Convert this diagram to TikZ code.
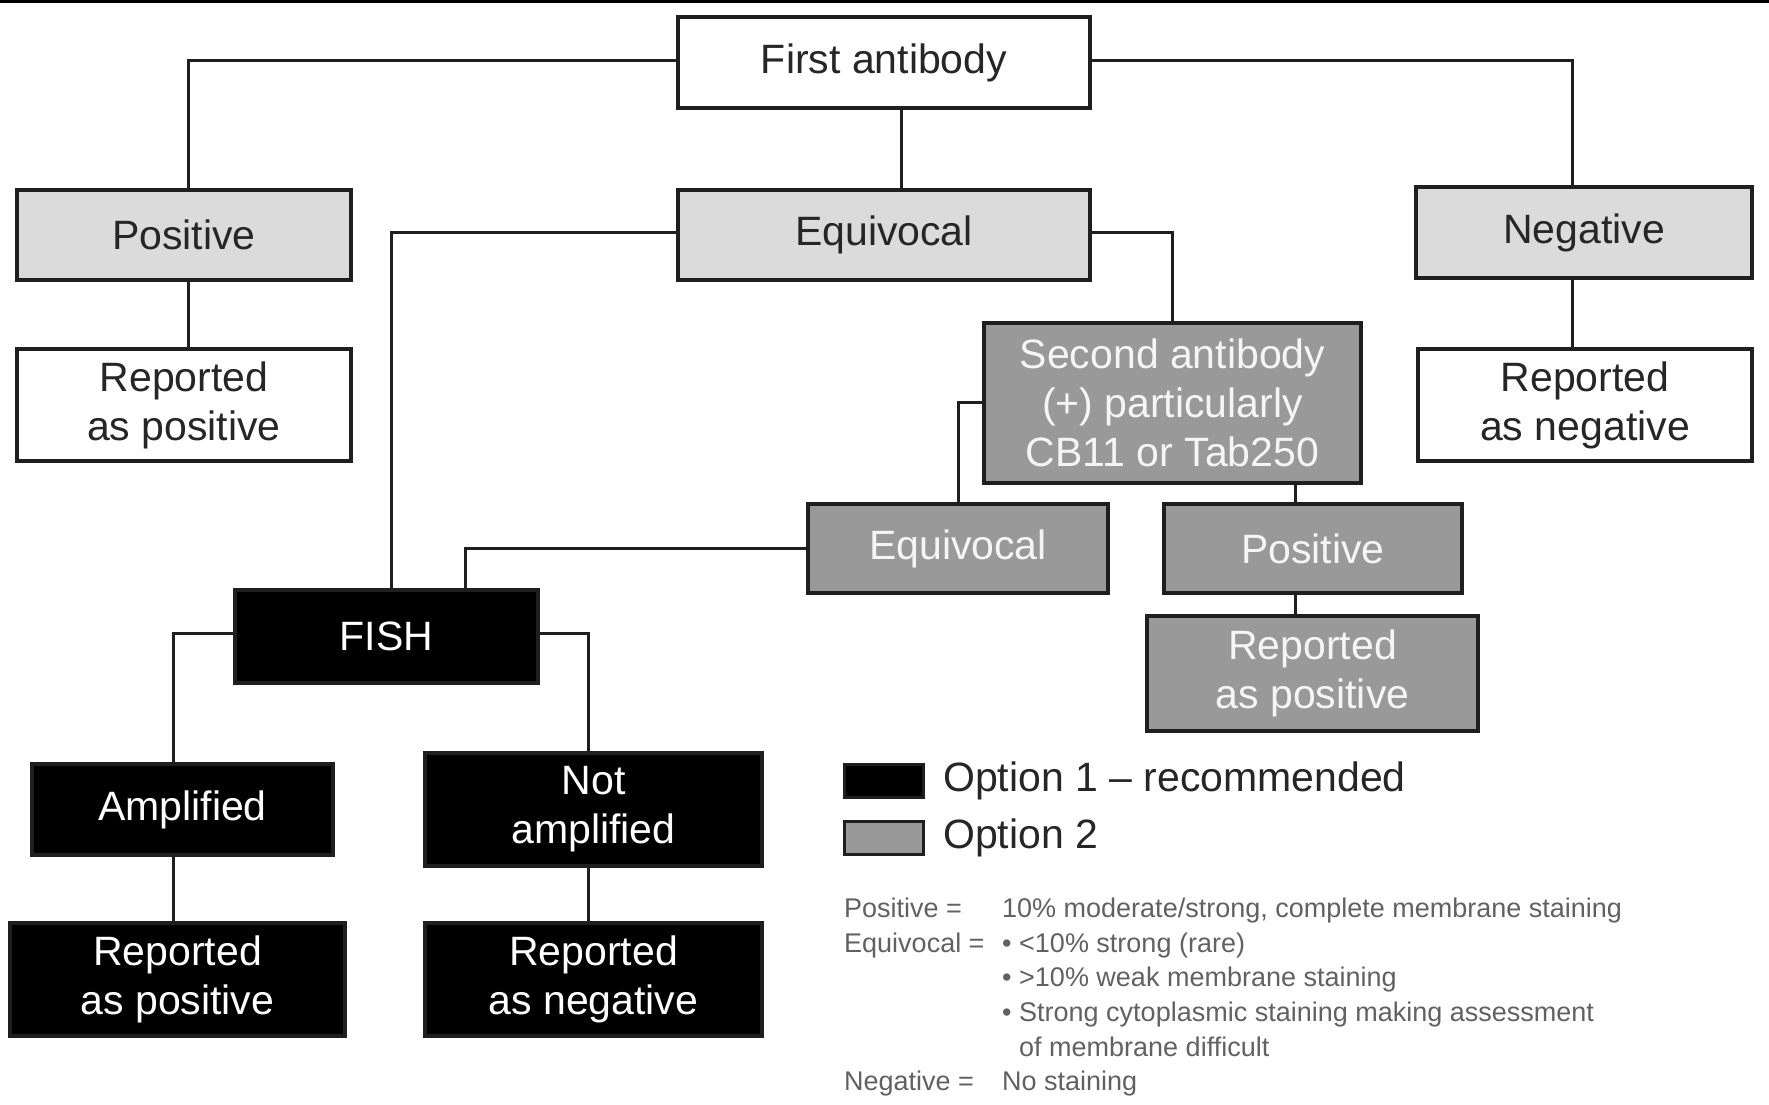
\documentclass[tikz,border=0pt]{standalone}
\usepackage{fontspec}
\setmainfont{Liberation Sans}
\begin{document}
\begin{tikzpicture}[x=1pt,y=-1pt,
  base/.style={draw=black!88, line width=3.5pt, align=center, inner sep=0pt,
    font=\fontsize{41}{49}\selectfont},
  whitebox/.style={base, fill=white, text=black!85},
  lightbox/.style={base, fill=black!14, text=black!85},
  midbox/.style={base, fill=black!40, text=black!4},
  darkbox/.style={base, fill=black, text=white},
  conn/.style={draw=black!88, line width=3pt},
  legtext/.style={anchor=west, inner sep=0pt, text=black!85, font=\fontsize{41}{49}\selectfont},
  small/.style={anchor=base west, inner sep=0pt, text=black!62, font=\fontsize{27}{31}\selectfont}
]
\useasboundingbox (0,0) rectangle (1769,1104);
\draw[line width=3pt] (0,1) -- (1769,1);

% boxes
\node[whitebox, minimum width=412pt, minimum height=91pt] (fa) at (884,62.5) {First antibody};
\node[lightbox, minimum width=334pt, minimum height=90pt] (pos) at (184,235) {Positive};
\node[lightbox, minimum width=412pt, minimum height=90pt] (equ) at (884,235) {Equivocal};
\node[lightbox, minimum width=336pt, minimum height=91pt] (neg) at (1584,232.5) {Negative};
\node[whitebox, minimum width=334pt, minimum height=112pt] (rpos) at (184,405) {Reported\\as positive};
\node[whitebox, minimum width=334pt, minimum height=112pt] (rneg) at (1585,405) {Reported\\as negative};
\node[midbox, minimum width=377pt, minimum height=160pt] (sec) at (1172.5,403) {Second antibody\\(+) particularly\\CB11 or Tab250};
\node[midbox, minimum width=300pt, minimum height=89pt] (equtwo) at (958,548.5) {Equivocal};
\node[midbox, minimum width=298pt, minimum height=89pt] (postwo) at (1313,548.5) {Positive};
\node[midbox, minimum width=331pt, minimum height=115pt] (rpostwo) at (1312.5,673.5) {Reported\\as positive};
\node[darkbox, minimum width=303pt, minimum height=93pt] (fish) at (386.5,636.5) {FISH};
\node[darkbox, minimum width=301pt, minimum height=91pt] (amp) at (182.5,809.5) {Amplified};
\node[darkbox, minimum width=337pt, minimum height=113pt] (namp) at (593.5,809.5) {Not\\amplified};
\node[darkbox, minimum width=335pt, minimum height=113pt] (rposthree) at (177.5,979.5) {Reported\\as positive};
\node[darkbox, minimum width=337pt, minimum height=113pt] (rnegthree) at (593.5,979.5) {Reported\\as negative};

% connectors
\draw[conn] ([yshift=2.5pt]fa.west) -| ([xshift=4pt]pos.north);
\draw[conn] ([yshift=2.5pt]fa.east) -| ([xshift=-12pt]neg.north);
\draw[conn] ([xshift=17pt]fa.south) -- ([xshift=17pt]equ.north);
\draw[conn] ([xshift=4pt]pos.south) -- ([xshift=4pt]rpos.north);
\draw[conn] ([xshift=-12pt]neg.south) -- ([xshift=-13pt]rneg.north);
\draw[conn] ([yshift=3pt]equ.west) -| ([xshift=4.5pt]fish.north);
\draw[conn] ([yshift=3pt]equ.east) -| (sec.north);
\draw[conn] ([yshift=1pt]sec.west) -| (equtwo.north);
\draw[conn] ([xshift=-18pt]postwo.north) -- ([xshift=-18pt]postwo.north |- sec.south);
\draw[conn] ([xshift=-18pt]postwo.south) -- ([xshift=-18pt]postwo.south |- rpostwo.north);
\draw[conn] (equtwo.west) -| ([xshift=78.5pt]fish.north);
\draw[conn] ([yshift=3.5pt]fish.west) -| ([xshift=-9.5pt]amp.north);
\draw[conn] ([yshift=3.5pt]fish.east) -| ([xshift=-5.5pt]namp.north);
\draw[conn] ([xshift=-9.5pt]amp.south) -- ([xshift=-9.5pt]amp.south |- rposthree.north);
\draw[conn] ([xshift=-5.5pt]namp.south) -- ([xshift=-5.5pt]rnegthree.north);

% legend
\node[draw=black!88, line width=3pt, fill=black, minimum width=79pt, minimum height=33pt, inner sep=0pt] (swone) at (883.5,780.5) {};
\node[draw=black!88, line width=3pt, fill=black!40, minimum width=79pt, minimum height=33pt, inner sep=0pt] (swtwo) at (883.5,837.5) {};
\node[legtext] (lone) at (943,781) {Option 1 -- recommended};
\node[legtext] (ltwo) at (943,838) {Option 2};

\node[small] (dpos) at (844,917) {Positive =};
\node[small] (dposv) at (1002,917) {10\% moderate/strong, complete membrane staining};
\node[small] (dequ) at (844,952) {Equivocal =};
\node[small] (bone) at (1002,952) {\textbullet};
\node[small] (eone) at (1019,952) {<10\% strong (rare)};
\node[small] (btwo) at (1002,986) {\textbullet};
\node[small] (etwo) at (1019,986) {>10\% weak membrane staining};
\node[small] (bthree) at (1002,1021) {\textbullet};
\node[small] (ethree) at (1019,1021) {Strong cytoplasmic staining making assessment};
\node[small] (efour) at (1019,1056) {of membrane difficult};
\node[small] (dneg) at (844,1090) {Negative =};
\node[small] (dnegv) at (1002,1090) {No staining};
\end{tikzpicture}
\end{document}
